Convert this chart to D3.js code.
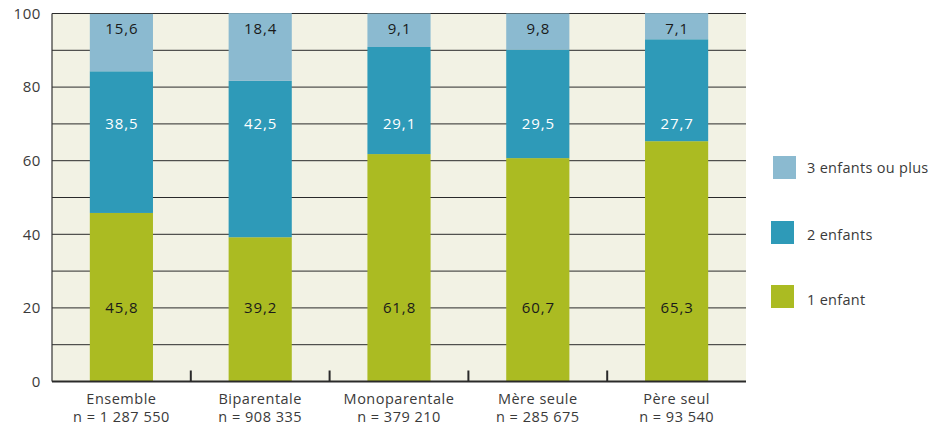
<!DOCTYPE html>
<html>
<head>
<meta charset="utf-8">
<script src="https://cdn.jsdelivr.net/npm/d3@7/dist/d3.min.js"></script>
<style>
  html, body { margin: 0; padding: 0; background: #ffffff; }
  svg { display: block; font-family: "Open Sans", "Noto Sans", sans-serif; }
</style>
</head>
<body>
<svg id="chart" width="940" height="429"></svg>
<script>
// Family types and their population counts
const categories = ["Ensemble", "Biparentale", "Monoparentale", "Mère seule", "Père seul"];
const counts = ["n = 1 287 550", "n = 908 335", "n = 379 210", "n = 285 675", "n = 93 540"];

// Share of families (%) by number of children
const oneChild = [45.8, 39.2, 61.8, 60.7, 65.3];
const twoChildren = [38.5, 42.5, 29.1, 29.5, 27.7];
const threePlus = [15.6, 18.4, 9.1, 9.8, 7.1];

const seriesNames = ["1 enfant", "2 enfants", "3 enfants ou plus"];
const yTicks = [0, 20, 40, 60, 80, 100];

const colors = { "1 enfant": "#abbb22", "2 enfants": "#2e9ab8", "3 enfants ou plus": "#8bbad0" };
const labelColors = { "1 enfant": "#1a1a1a", "2 enfants": "#ffffff", "3 enfants ou plus": "#1a1a1a" };
// Fixed vertical position (in % units) of the value labels for each series
const labelLevel = { "1 enfant": 20, "2 enfants": 70, "3 enfants ou plus": 95.8 };

const rows = categories.map((c, i) => ({
  cat: c,
  "1 enfant": oneChild[i],
  "2 enfants": twoChildren[i],
  "3 enfants ou plus": threePlus[i]
}));

const svg = d3.select("#chart");
const plotLeft = 52, plotRight = 746, plotTop = 13.5, plotBottom = 381.5;

const x = d3.scaleBand().domain(categories).range([plotLeft, plotRight]).paddingInner(0).paddingOuter(0);
const y = d3.scaleLinear().domain([0, 100]).range([plotBottom, plotTop]);
const barW = x.bandwidth() * 0.455;

// Plot background
svg.append("rect")
  .attr("x", plotLeft).attr("y", plotTop)
  .attr("width", plotRight - plotLeft).attr("height", plotBottom - plotTop)
  .attr("fill", "#f2f2e4");

// Horizontal grid every 10 %
svg.append("g").selectAll("line")
  .data(d3.range(10, 101, 10))
  .join("line")
  .attr("x1", plotLeft).attr("x2", plotRight)
  .attr("y1", d => y(d)).attr("y2", d => y(d))
  .attr("stroke", "#2a2a2a")
  .attr("stroke-width", 1);

// Stacked bars
const stack = d3.stack().keys(seriesNames)(rows);
const layers = svg.append("g").selectAll("g")
  .data(stack)
  .join("g")
  .attr("fill", d => colors[d.key]);

layers.selectAll("rect")
  .data(d => d)
  .join("rect")
  .attr("x", d => x(d.data.cat) + (x.bandwidth() - barW) / 2)
  .attr("width", barW)
  .attr("y", d => y(d[1]))
  .attr("height", d => y(d[0]) - y(d[1]));

// Value labels
const fmt = v => v.toFixed(1).replace(".", ",");
svg.append("g").selectAll("g")
  .data(stack)
  .join("g")
  .each(function(layer) {
    d3.select(this).selectAll("text")
      .data(layer)
      .join("text")
      .attr("x", d => x(d.data.cat) + x.bandwidth() / 2 + 0.5)
      .attr("y", y(labelLevel[layer.key]))
      .attr("dy", "0.36em")
      .attr("text-anchor", "middle")
      .attr("font-size", 15)
      .attr("letter-spacing", "0.9px")
      .attr("fill", labelColors[layer.key])
      .text(d => fmt(d.data[layer.key]));
  });

// Left axis line
svg.append("line")
  .attr("x1", plotLeft).attr("x2", plotLeft)
  .attr("y1", plotTop).attr("y2", plotBottom)
  .attr("stroke", "#333333").attr("stroke-width", 1.2);

// Y axis tick labels
const yAxis = d3.axisLeft(y).tickValues(yTicks).tickSize(0).tickPadding(11);
const yg = svg.append("g").attr("transform", `translate(${plotLeft},0)`).call(yAxis);
yg.select(".domain").remove();
yg.selectAll("text")
  .attr("font-size", 15)
  .attr("letter-spacing", "0.6px")
  .attr("font-family", "\"Open Sans\", sans-serif")
  .attr("fill", "#3a3a3a");

// Bottom axis with separators between categories
svg.append("line")
  .attr("x1", plotLeft).attr("x2", plotRight)
  .attr("y1", plotBottom).attr("y2", plotBottom)
  .attr("stroke", "#2a2a2a").attr("stroke-width", 2);

svg.append("g").selectAll("line")
  .data(categories.slice(1))
  .join("line")
  .attr("x1", d => x(d)).attr("x2", d => x(d))
  .attr("y1", plotBottom).attr("y2", plotBottom - 11)
  .attr("stroke", "#2a2a2a").attr("stroke-width", 2);

// Category labels (two lines)
const catG = svg.append("g").selectAll("text")
  .data(categories)
  .join("text")
  .attr("x", d => x(d) + x.bandwidth() / 2)
  .attr("text-anchor", "middle")
  .attr("font-size", 14.5)
  .attr("letter-spacing", "0.5px")
  .attr("fill", "#3a3a3a");
catG.append("tspan").attr("x", d => x(d) + x.bandwidth() / 2).attr("y", 404).text(d => d);
catG.append("tspan").attr("x", d => x(d) + x.bandwidth() / 2).attr("y", 422).text((d, i) => counts[i]);

// Legend
const legendItems = [
  { key: "3 enfants ou plus", sx: 773, sy: 156, ty: 173 },
  { key: "2 enfants", sx: 771, sy: 221, ty: 240 },
  { key: "1 enfant", sx: 771, sy: 285, ty: 305 }
];
const lg = svg.append("g").selectAll("g").data(legendItems).join("g");
lg.append("rect")
  .attr("x", d => d.sx).attr("y", d => d.sy)
  .attr("width", 23).attr("height", 23)
  .attr("fill", d => colors[d.key]);
lg.append("text")
  .attr("x", 807).attr("y", d => d.ty)
  .attr("font-size", 14.5)
  .attr("letter-spacing", "0.3px")
  .attr("fill", "#3a3a3a")
  .text(d => d.key);
</script>
</body>
</html>
